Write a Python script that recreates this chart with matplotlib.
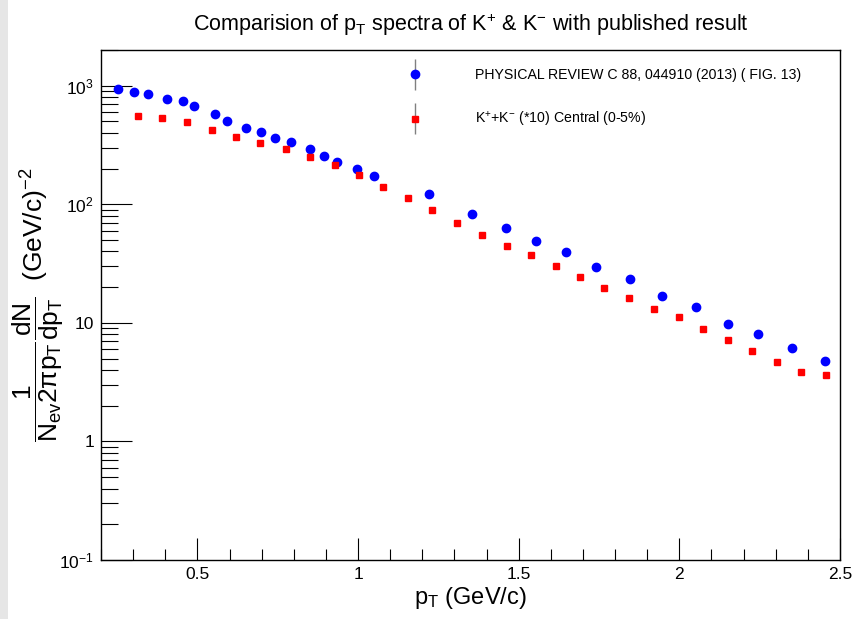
import matplotlib
matplotlib.use("Agg")
import matplotlib.pyplot as plt
from matplotlib import font_manager
from matplotlib.ticker import FixedLocator, NullFormatter, MultipleLocator
from matplotlib.legend_handler import HandlerErrorbar
from matplotlib.container import ErrorbarContainer
import numpy as np

names = {f.name for f in font_manager.fontManager.ttflist}
narrow = 'Liberation Sans Narrow' if 'Liberation Sans Narrow' in names else 'Liberation Sans'
plt.rcParams['font.family'] = [narrow, 'DejaVu Sans']
plt.rcParams['mathtext.fontset'] = 'custom'
plt.rcParams['mathtext.rm'] = narrow
plt.rcParams['mathtext.it'] = narrow
plt.rcParams['mathtext.bf'] = narrow
plt.rcParams['mathtext.sf'] = narrow

# Published data (blue circles)
pub_pt = [0.254, 0.302, 0.346, 0.405, 0.454, 0.488, 0.555, 0.591, 0.650, 0.697,
          0.741, 0.792, 0.852, 0.893, 0.934, 0.998, 1.050, 1.222, 1.355, 1.462,
          1.555, 1.648, 1.740, 1.845, 1.945, 2.052, 2.151, 2.246, 2.352, 2.452]
pub_y = [937, 890, 846, 776, 738, 673, 576, 506, 439, 403,
         363, 332, 292, 254, 228, 200, 173, 121, 82.8, 62.7,
         49.3, 39.3, 29.3, 23.5, 16.9, 13.5, 9.73, 8.06, 6.09, 4.79]

# This analysis (red squares), K+ + K- (*10), central 0-5%
ana_pt = [0.315, 0.390, 0.467, 0.544, 0.619, 0.696, 0.775, 0.850, 0.927, 1.003,
          1.079, 1.156, 1.231, 1.309, 1.386, 1.463, 1.538, 1.615, 1.692, 1.767,
          1.844, 1.920, 1.998, 2.075, 2.151, 2.227, 2.305, 2.380, 2.457]
ana_y = [555, 536, 490, 422, 366, 330, 292, 251, 215, 175,
         140, 112, 88.9, 70.0, 54.9, 44.7, 37.0, 30.0, 24.4, 19.8,
         16.1, 13.1, 11.1, 8.81, 7.16, 5.74, 4.67, 3.87, 3.66]

xticks = [0.5, 1, 1.5, 2, 2.5]
xtick_labels = ['0.5', '1', '1.5', '2', '2.5']
yticks = [0.1, 1, 10, 100, 1000]
ytick_labels = [r'10$^{-1}$', '1', '10', r'10$^{2}$', r'10$^{3}$']

W, H = 853, 619
fig = plt.figure(figsize=(W / 100, H / 100), dpi=100)
# light gray strip at left edge
fig.patches.append(plt.Rectangle((0, 0), 8 / W, 1, transform=fig.transFigure,
                                 facecolor='#e6e6e6', edgecolor='none', zorder=0))
ax = fig.add_axes([101 / W, (H - 560) / H, 739 / W, 510 / H])
ax.set_yscale('log')
ax.set_xlim(0.2, 2.5)
ax.set_ylim(0.1, 2000)

pub = ax.errorbar(pub_pt, pub_y, yerr=np.zeros(len(pub_y)), fmt='o', color='#0000ff',
                  ms=6, mec='#0000ff', ecolor='#808080', elinewidth=1, capsize=0, zorder=3)
ana = ax.errorbar(ana_pt, ana_y, yerr=np.zeros(len(ana_y)), fmt='s', color='#ff0000',
                  ms=5, mec='#ff0000', ecolor='#808080', elinewidth=1, capsize=0, zorder=3)

ax.xaxis.set_major_locator(FixedLocator(xticks))
ax.set_xticklabels(xtick_labels)
ax.xaxis.set_minor_locator(MultipleLocator(0.1))
ax.yaxis.set_major_locator(FixedLocator(yticks))
ax.set_yticklabels(ytick_labels)
minors = [m * 10.0 ** e for e in range(-1, 4) for m in range(2, 10)]
ax.yaxis.set_minor_locator(FixedLocator(minors))
ax.yaxis.set_minor_formatter(NullFormatter())

ax.tick_params(axis='x', which='major', direction='in', length=16, width=0.8,
               labelsize=12.5, pad=5, top=False)
ax.tick_params(axis='x', which='minor', direction='in', length=8, width=0.8, top=False)
ax.tick_params(axis='y', which='major', direction='in', length=22, width=0.8,
               labelsize=12.5, pad=5, right=False)
ax.tick_params(axis='y', which='minor', direction='in', length=12, width=0.8, right=False)
for s in ax.spines.values():
    s.set_linewidth(1.0)

ax.set_title(r'Comparision of p$_{\mathrm{T}}$ spectra of K$^{+}$ & K$^{-}$ with published result',
             fontsize=15.5, pad=14)
ax.set_xlabel(r'p$_{\mathrm{T}}$ (GeV/c)', fontsize=17, labelpad=2)
ax.set_ylabel(r'$\dfrac{1}{N_{\mathrm{ev}}2\pi p_{\mathrm{T}}}\dfrac{dN}{dp_{\mathrm{T}}}$  (GeV/c)$^{-2}$',
              fontsize=19)
ax.yaxis.set_label_coords(-0.048, 0.5)

leg = ax.legend([pub, ana],
                ['PHYSICAL REVIEW C 88, 044910 (2013) ( FIG. 13)', r'K$^{+}$+K$^{-}$ (*10) Central (0-5%)'],
                loc='upper left', bbox_to_anchor=(0.407, 0.975), frameon=False, fontsize=10.2,
                handlelength=1.0, handletextpad=3.75, labelspacing=1.95, borderaxespad=0,
                handler_map={ErrorbarContainer: HandlerErrorbar(yerr_size=1.1)})

fig.savefig('out.png', dpi=100)
